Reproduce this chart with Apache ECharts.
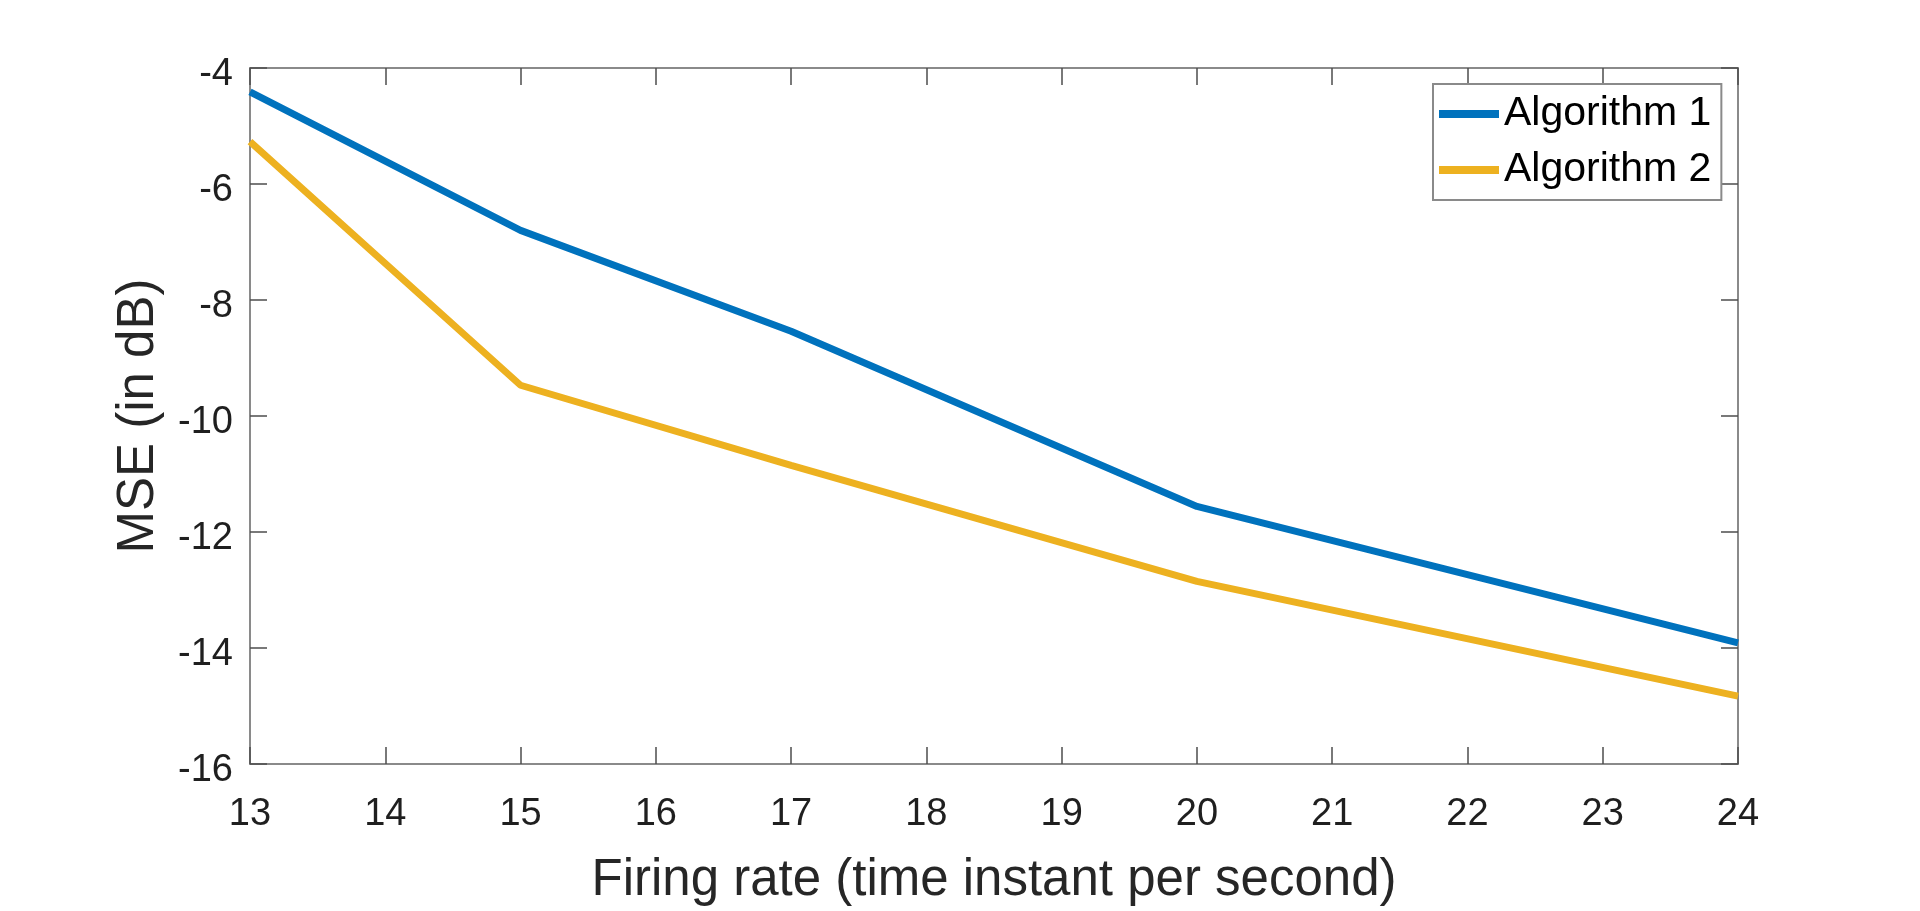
<!DOCTYPE html>
<html>
<head>
<meta charset="utf-8">
<script src="https://cdn.jsdelivr.net/npm/echarts@6/dist/echarts.min.js"></script>
<style>
html,body{margin:0;padding:0;background:#fff;}
#chart{width:1920px;height:911px;}
</style>
</head>
<body>
<div id="chart"></div>
<script>
const firingRate = [13, 15, 17, 20, 24];
const algorithm1 = [-4.41, -6.80, -8.54, -11.56, -13.91];
const algorithm2 = [-5.27, -9.47, -10.85, -12.85, -14.83];
const seriesNames = ['Algorithm 1', 'Algorithm 2'];
const xTitle = 'Firing rate (time instant per second)';
const yTitle = 'MSE (in dB)';

const chart = echarts.init(document.getElementById('chart'));
const axisLineStyle = {color: '#8a8a8a', width: 2};
const tickStyle = {color: '#4d4d4d', width: 1.5};
const labelFont = {fontFamily: 'Liberation Sans', fontSize: 38, color: '#1f1f1f'};

chart.setOption({
  animation: false,
  backgroundColor: '#fff',
  grid: {left: 250, right: 182, top: 68, bottom: 146, containLabel: false},
  legend: {
    orient: 'vertical',
    left: 1433, top: 84,
    padding: [5, 10, 5, 6],
    itemGap: 6,
    itemWidth: 60, itemHeight: 8,
    icon: 'rect',
    borderColor: '#8a8a8a', borderWidth: 2,
    backgroundColor: '#fff',
    textStyle: {fontFamily: 'Liberation Sans', fontSize: 41, color: '#000', lineHeight: 50},
    data: seriesNames
  },
  xAxis: [{
    type: 'value', min: 13, max: 24, interval: 1, position: 'bottom',
    name: xTitle, nameLocation: 'middle', nameGap: 91,
    nameTextStyle: {fontFamily: 'Liberation Sans', fontSize: 51, color: '#262626'},
    axisLine: {show: true, lineStyle: axisLineStyle},
    axisTick: {show: true, inside: true, length: 17, lineStyle: tickStyle},
    axisLabel: Object.assign({margin: 32}, labelFont),
    splitLine: {show: false}
  }, {
    type: 'value', min: 13, max: 24, interval: 1, position: 'top',
    axisLine: {show: true, lineStyle: axisLineStyle},
    axisTick: {show: true, inside: true, length: 17, lineStyle: tickStyle},
    axisLabel: {show: false}, splitLine: {show: false}
  }],
  yAxis: [{
    type: 'value', min: -16, max: -4, interval: 2, position: 'left',
    name: yTitle, nameLocation: 'middle', nameGap: 86,
    nameTextStyle: {fontFamily: 'Liberation Sans', fontSize: 51, color: '#262626'},
    axisLine: {show: true, lineStyle: axisLineStyle},
    axisTick: {show: true, inside: true, length: 17, lineStyle: tickStyle},
    axisLabel: Object.assign({
      margin: 17,
      formatter: '{d|{value}}',
      rich: {d: {fontFamily: 'Liberation Sans', fontSize: 38, color: '#1f1f1f', padding: [14, 0, 0, 0]}}
    }, labelFont),
    splitLine: {show: false}
  }, {
    type: 'value', min: -16, max: -4, interval: 2, position: 'right',
    axisLine: {show: true, lineStyle: axisLineStyle},
    axisTick: {show: true, inside: true, length: 17, lineStyle: tickStyle},
    axisLabel: {show: false}, splitLine: {show: false}
  }],
  series: [{
    name: seriesNames[0], type: 'line', symbol: 'none',
    data: firingRate.map((x, i) => [x, algorithm1[i]]),
    lineStyle: {color: '#0072BD', width: 7}, itemStyle: {color: '#0072BD'}
  }, {
    name: seriesNames[1], type: 'line', symbol: 'none',
    data: firingRate.map((x, i) => [x, algorithm2[i]]),
    lineStyle: {color: '#EDB120', width: 7}, itemStyle: {color: '#EDB120'}
  }]
});
</script>
</body>
</html>
